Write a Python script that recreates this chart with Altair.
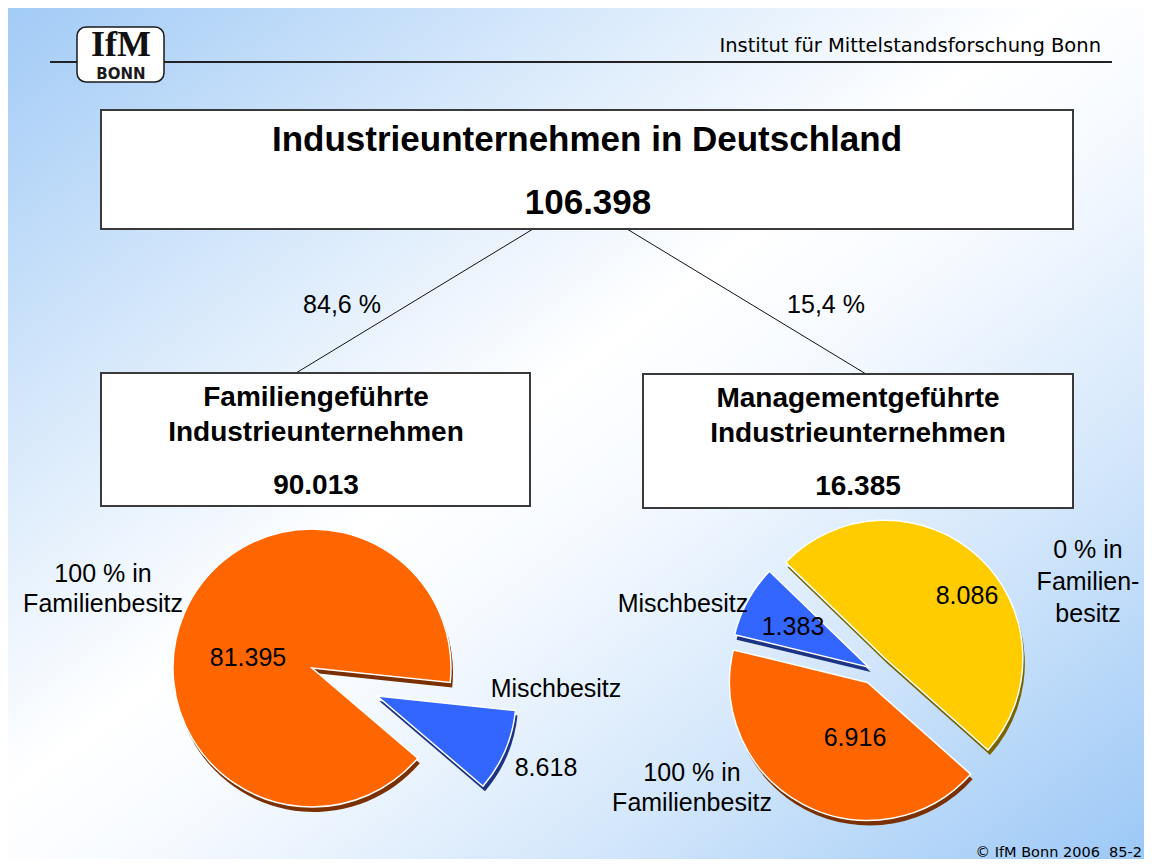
import altair as alt
import pandas as pd
import numpy as np

# ---------------- data ----------------
header_text = "Institut für Mittelstandsforschung Bonn"
footer_text = "© IfM Bonn 2006\u00a0\u00a085-2"
title_text = "Industrieunternehmen in Deutschland"
total_count = 106398

group_lines = [["Familiengeführte", "Industrieunternehmen"],
               ["Managementgeführte", "Industrieunternehmen"]]
group_counts = [90013, 16385]

left_categories = ["Mischbesitz", "100 % in Familienbesitz"]
left_values = [8618, 81395]

right_categories = ["0 % in Familienbesitz", "100 % in Familienbesitz", "Mischbesitz"]
right_values = [8086, 6916, 1383]


def de(n):
    return f"{n:,}".replace(",", ".")


def pct(n, tot):
    return f"{n / tot * 100:.1f} %".replace(".", ",")


# ---------------- layout (page pixels) ----------------
W, H = 1136, 851
X0, Y0 = 8, 8
xs = alt.Scale(domain=[X0, X0 + W], nice=False, zero=False)
ys = alt.Scale(domain=[Y0, Y0 + H], nice=False, zero=False, reverse=True)


def X(f):
    return alt.X(f"{f}:Q", scale=xs, axis=None)


def Y(f):
    return alt.Y(f"{f}:Q", scale=ys, axis=None)


SANS = "Liberation Sans"
TAHOMA = "DejaVu Sans"

fills = {"100 % in Familienbesitz": "#ff6600", "Mischbesitz": "#3366ff",
         "0 % in Familienbesitz": "#ffcc00"}
shades = {"100 % in Familienbesitz": "#7a3000", "Mischbesitz": "#1c3282",
          "0 % in Familienbesitz": "#7a6400"}

layers = []

# background gradient
bg = pd.DataFrame({"x": [X0], "x2": [X0 + W], "y": [Y0], "y2": [Y0 + H]})
layers.append(
    alt.Chart(bg).mark_rect(
        fill=alt.Gradient(
            gradient="linear", x1=0, y1=0, x2=1, y2=1,
            stops=[alt.GradientStop(color="#a2cbf6", offset=0),
                   alt.GradientStop(color="#d6e8fb", offset=0.25),
                   alt.GradientStop(color="#ffffff", offset=0.46),
                   alt.GradientStop(color="#f6faff", offset=0.56),
                   alt.GradientStop(color="#d4e7fb", offset=0.75),
                   alt.GradientStop(color="#9cc8f6", offset=1)]),
        stroke=None).encode(x=X("x"), x2="x2:Q", y=Y("y"), y2="y2:Q")
)

# header line
hl = pd.DataFrame({"x": [50], "x2": [1112], "y": [62], "y2": [62]})
layers.append(alt.Chart(hl).mark_rule(color="#222222", strokeWidth=2)
              .encode(x=X("x"), x2="x2:Q", y=Y("y"), y2="y2:Q"))

# connector lines
conn = pd.DataFrame({"x": [533, 627], "y": [229, 229], "x2": [296, 866], "y2": [373, 374]})
layers.append(alt.Chart(conn).mark_rule(color="#111111", strokeWidth=1)
              .encode(x=X("x"), x2="x2:Q", y=Y("y"), y2="y2:Q"))

# boxes
boxes = pd.DataFrame({"x": [101, 101, 643], "x2": [1073, 530, 1073],
                      "y": [110, 373, 374], "y2": [229, 506, 508]})
layers.append(alt.Chart(boxes).mark_rect(fill="white", stroke="#3a3a3a", strokeWidth=2)
              .encode(x=X("x"), x2="x2:Q", y=Y("y"), y2="y2:Q"))

# logo
logo = pd.DataFrame({"x": [77], "x2": [164], "y": [27], "y2": [82]})
layers.append(alt.Chart(logo).mark_rect(fill="white", stroke="#1a1a1a", strokeWidth=1.5,
                                         cornerRadius=9)
              .encode(x=X("x"), x2="x2:Q", y=Y("y"), y2="y2:Q"))
layers.append(alt.Chart(pd.DataFrame({"t": ["IfM"], "x": [121], "y": [45]}))
              .mark_text(font="Liberation Serif", fontWeight="bold", fontSize=36,
                         baseline="middle", align="center", color="#111111")
              .encode(x=X("x"), y=Y("y"), text="t:N"))
layers.append(alt.Chart(pd.DataFrame({"t": ["BONN"], "x": [121], "y": [74]}))
              .mark_text(font="DejaVu Sans", fontWeight="bold", fontSize=15,
                         baseline="middle", align="center", color="#1a1a1a")
              .encode(x=X("x"), y=Y("y"), text="t:N"))


# ---------------- pies ----------------
def pie_frame(cats, vals, start_deg, cx, cy, explode):
    v = np.array(vals, dtype=float)
    frac = v / v.sum()
    start = np.deg2rad(start_deg)
    ends = start + 2 * np.pi * np.cumsum(frac)
    starts = ends - 2 * np.pi * frac
    mid = (starts + ends) / 2
    ex = np.array(explode, dtype=float)
    return pd.DataFrame({
        "cat": cats, "value": vals, "ord": list(range(len(cats))),
        "fill": [fills[c] for c in cats], "shade": [shades[c] for c in cats],
        "cx": cx + ex * np.sin(mid), "cy": cy - ex * np.cos(mid),
    })


def pie_layers(df, start_deg, r, sdx=2, sdy=5):
    start = float(np.deg2rad(start_deg))
    th = alt.Theta("value:Q", stack=True,
                   scale=alt.Scale(range=[start, start + 2 * np.pi]))
    shadow = (alt.Chart(df)
              .transform_calculate(sx=f"datum.cx + {sdx}", sy=f"datum.cy + {sdy}")
              .mark_arc(radius=r)
              .encode(theta=th, order=alt.Order("ord:Q"), x=X("sx"), y=Y("sy"),
                      color=alt.Color("shade:N", scale=None)))
    main = (alt.Chart(df)
            .mark_arc(radius=r, stroke="white", strokeWidth=1.5)
            .encode(theta=th, order=alt.Order("ord:Q"), x=X("cx"), y=Y("cy"),
                    color=alt.Color("fill:N", scale=None)))
    return [shadow, main]


left_df = pie_frame(left_categories, left_values, 96, 312, 668, [71, 0])
right_df = pie_frame(right_categories, right_values, -46, 874, 670, [16, 14, 6])
layers += pie_layers(left_df, 96, 139)
layers += pie_layers(right_df, -46, 138)


# ---------------- texts ----------------
def text_layer(rows, **props):
    df = pd.DataFrame(rows, columns=["t", "x", "y"])
    base = dict(baseline="middle", align="center", color="black")
    base.update(props)
    return alt.Chart(df).mark_text(**base).encode(x=X("x"), y=Y("y"), text="t:N")


layers.append(text_layer([[header_text, 1101, 46]], font=TAHOMA, fontSize=19.5, align="right"))
layers.append(text_layer([[footer_text, 1142, 853]], font=TAHOMA, fontSize=14.5, align="right"))

layers.append(text_layer([[title_text, 587, 140], [de(total_count), 588, 203]],
                         font=SANS, fontSize=35, fontWeight="bold"))

box_rows = [[group_lines[0][0], 316, 398], [group_lines[0][1], 316, 433],
            [de(group_counts[0]), 316, 486],
            [group_lines[1][0], 858, 399], [group_lines[1][1], 858, 434],
            [de(group_counts[1]), 858, 487]]
layers.append(text_layer(box_rows, font=SANS, fontSize=28, fontWeight="bold"))

share_rows = [[pct(group_counts[0], total_count), 342, 305],
              [pct(group_counts[1], total_count), 826, 305]]
layers.append(text_layer(share_rows, font=SANS, fontSize=25))

lv = dict(zip(left_categories, left_values))
rv = dict(zip(right_categories, right_values))
pie_rows = [
    ["100 % in", 103, 574], ["Familienbesitz", 103, 604],
    [de(lv["100 % in Familienbesitz"]), 248, 658],
    ["Mischbesitz", 556, 689], [de(lv["Mischbesitz"]), 546, 768],
    ["Mischbesitz", 683, 604], [de(rv["Mischbesitz"]), 793, 627],
    [de(rv["0 % in Familienbesitz"]), 967, 596],
    ["0 % in", 1088, 550], ["Familien-", 1088, 582], ["besitz", 1088, 614],
    [de(rv["100 % in Familienbesitz"]), 855, 738],
    ["100 % in", 692, 773], ["Familienbesitz", 692, 803],
]
layers.append(text_layer(pie_rows, font=SANS, fontSize=25))

chart = (alt.layer(*layers)
         .resolve_scale(theta="independent")
         .properties(width=W, height=H, padding=0, autosize=alt.AutoSizeParams(type="none"))
         .configure_view(stroke=None))

chart.save("out.html", embed_options={"renderer": "svg", "actions": False})
